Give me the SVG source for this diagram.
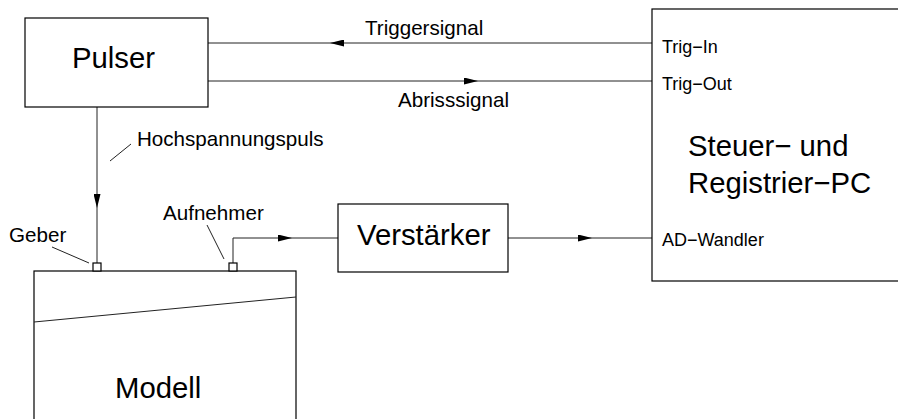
<svg xmlns="http://www.w3.org/2000/svg" width="898" height="419" viewBox="0 0 898 419">
<style>
.box{fill:#fff;stroke:#000;stroke-width:1.2}
.ln{fill:none;stroke:#222;stroke-width:1}
.big{font-family:"Liberation Sans",Arial,sans-serif;font-size:29.3px;fill:#000}
.mid{font-family:"Liberation Sans",Arial,sans-serif;font-size:20.6px;fill:#000}
.sm{font-family:"Liberation Sans",Arial,sans-serif;font-size:18px;fill:#000}
</style>
<defs>
<marker id="arr" viewBox="0 0 14 7" refX="14" refY="3.5" markerWidth="14" markerHeight="7" markerUnits="userSpaceOnUse" orient="auto">
<path d="M0,0 L14,3.5 L0,7 z" fill="#000"/>
</marker>
</defs>
<rect width="898" height="419" fill="#fff"/>
<g id="connectors">
<path class="ln" d="M652,43 L330,43" marker-end="url(#arr)"/>
<path class="ln" d="M330,43 L208,43"/>
<path class="ln" d="M208,81 L478,81" marker-end="url(#arr)"/>
<path class="ln" d="M478,81 L652,81"/>
<path class="ln" d="M97,107 L97,208" marker-end="url(#arr)"/>
<path class="ln" d="M97,208 L97,263"/>
<path class="ln" d="M233,263 L233,238 L292,238" marker-end="url(#arr)"/>
<path class="ln" d="M292,238 L338,238"/>
<path class="ln" d="M508,238 L592,238" marker-end="url(#arr)"/>
<path class="ln" d="M592,238 L652,238"/>
<path class="ln" d="M110,161 L131,144"/>
<path class="ln" d="M52,247 L89,263"/>
<path class="ln" d="M207,225 L224,259"/>
</g>
<g id="pulser">
<rect class="box" x="25" y="18" width="183" height="89"/>
<text class="big" x="72" y="68">Pulser</text>
</g>
<g id="pc">
<rect class="box" x="652" y="9" width="260" height="272"/>
<text class="sm" x="662" y="53">Trig−In</text>
<text class="sm" x="662" y="90">Trig−Out</text>
<text class="big" x="688" y="156">Steuer− und</text>
<text class="big" x="688" y="193">Registrier−PC</text>
<text class="sm" x="662" y="246">AD−Wandler</text>
</g>
<g id="verstaerker">
<rect class="box" x="338" y="204" width="170" height="68"/>
<text class="big" x="357" y="245">Verstärker</text>
</g>
<g id="modell">
<rect class="box" x="34" y="271" width="262" height="170"/>
<path class="ln" d="M34,322 L296,297" stroke="#000"/>
<text class="big" x="115" y="398">Modell</text>
</g>
<g id="geber">
<rect class="box" x="93" y="263" width="8" height="8" stroke-width="1"/>
</g>
<g id="aufnehmer">
<rect class="box" x="229" y="263" width="8" height="8" stroke-width="1"/>
</g>
<g id="labels">
<text class="mid" x="365" y="35">Triggersignal</text>
<text class="mid" x="398" y="107">Abrisssignal</text>
<text class="mid" x="137" y="146">Hochspannungspuls</text>
<text class="mid" x="9" y="242">Geber</text>
<text class="mid" x="163" y="220">Aufnehmer</text>
</g>
</svg>
